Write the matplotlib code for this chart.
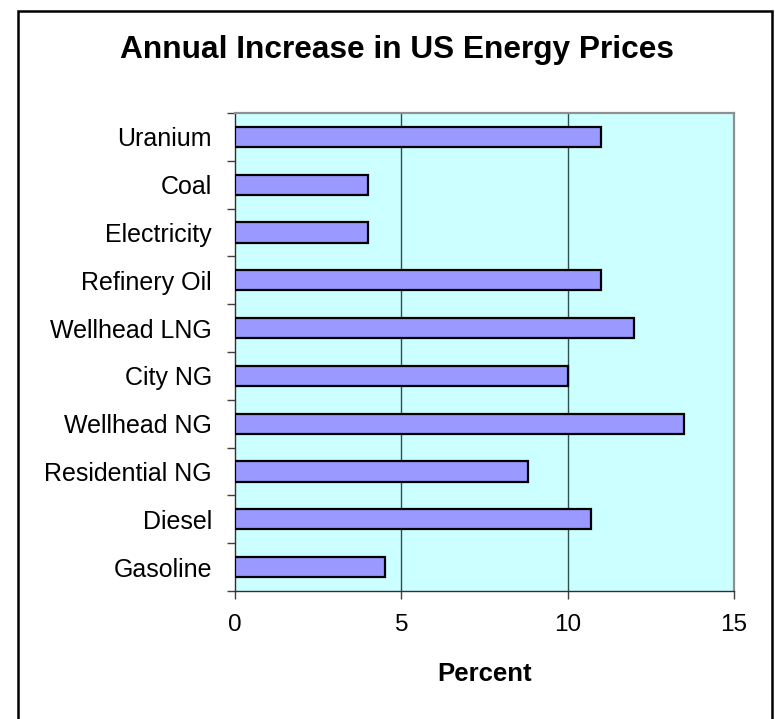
import matplotlib
matplotlib.use("Agg")
import matplotlib.pyplot as plt
from matplotlib.patches import Rectangle

categories = ["Gasoline", "Diesel", "Residential NG", "Wellhead NG", "City NG",
              "Wellhead LNG", "Refinery Oil", "Electricity", "Coal", "Uranium"]
values = [4.5, 10.7, 8.8, 13.5, 10.0, 12.0, 11.0, 4.0, 4.0, 11.0]
x_ticks = [0, 5, 10, 15]
title = "Annual Increase in US Energy Prices"
xlabel = "Percent"

plt.rcParams['font.family'] = ['Liberation Sans', 'DejaVu Sans']

W, H = 775, 719
fig = plt.figure(figsize=(W / 100, H / 100), dpi=100)
fig.patch.set_facecolor("white")

left, right, top, bottom = 235, 734, 113, 591
ax = fig.add_axes([left / W, 1 - bottom / H, (right - left) / W, (bottom - top) / H])
ax.set_facecolor("#CCFFFF")

ypos = list(range(len(categories)))
ax.barh(ypos, values, height=0.42, color="#9999FF", edgecolor="black", linewidth=1.6, zorder=3)

ax.set_xlim(0, 15)
ax.set_ylim(-0.5, len(categories) - 0.5)
ax.set_xticks(x_ticks)
ax.set_xticklabels([str(t) for t in x_ticks])
ax.set_yticks(ypos)
ax.set_yticklabels(categories)
ax.set_yticks([i - 0.5 for i in range(len(categories) + 1)], minor=True)

ax.tick_params(axis="y", which="major", length=0, pad=16.5, labelsize=18)
ax.tick_params(axis="y", which="minor", length=6, width=1, direction="out", color="#404040")
ax.tick_params(axis="x", which="major", length=6, width=1, direction="out", color="#404040",
               pad=10.5, labelsize=17.5)

for g in [5, 10]:
    ax.axvline(g, color="#2f4f4f", linewidth=1.0, zorder=1)

for side in ["left", "bottom"]:
    ax.spines[side].set_color("#303030")
    ax.spines[side].set_linewidth(1.0)
for side in ["top", "right"]:
    ax.spines[side].set_color("#909090")
    ax.spines[side].set_linewidth(1.6)

fig.text(((left + right) / 2) / W, 1 - 674 / H, xlabel, ha="center", va="center",
         fontsize=18.5, fontweight="bold")
fig.text(397 / W, 1 - 50 / H, title, ha="center", va="center", fontsize=22.8,
         fontweight="bold")

fig.patches.append(Rectangle((18 / W, -0.02), (772 - 18) / W, (1 - 11 / H) + 0.02,
                             transform=fig.transFigure, fill=False, edgecolor="black",
                             linewidth=1.8, clip_on=False))

fig.savefig("out.png", dpi=100, facecolor="white")
